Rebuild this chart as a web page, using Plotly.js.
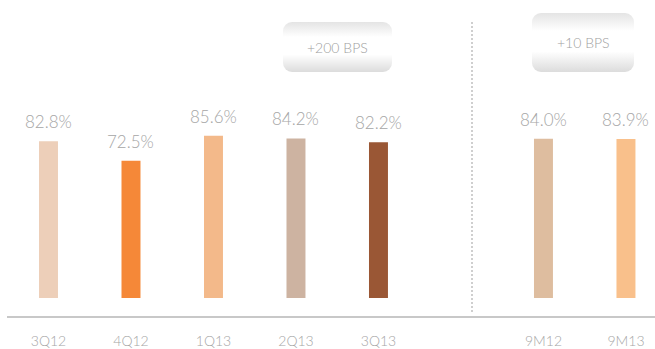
<!DOCTYPE html>
<html>
<head>
<meta charset="utf-8">
<script src="https://cdn.plot.ly/plotly-3.0.1.min.js"></script>
<style>html,body{margin:0;padding:0;background:#fff;}#chart{width:655px;height:349px;}</style>
</head>
<body>
<div id="chart"></div>
<script>
const categories = ["3Q12", "4Q12", "1Q13", "2Q13", "3Q13", "", "9M12", "9M13"];
const values = [82.8, 72.5, 85.6, 84.2, 82.2, null, 84.0, 83.9];
const valueLabels = ["82.8%", "72.5%", "85.6%", "84.2%", "82.2%", "", "84.0%", "83.9%"];
const barColors = ["#EDCFB9", "#F58838", "#F3B98A", "#CDB3A1", "#9A5735", "#ffffff", "#DEBD9F", "#F9C08B"];
const boxLabels = ["+200 BPS", "+10 BPS"];

const xIdx = categories.map((c, i) => i);

function boxSvg(w, h) {
  const s = `<svg xmlns="http://www.w3.org/2000/svg" width="${w}" height="${h}" viewBox="0 0 ${w} ${h}">` +
    `<defs><linearGradient id="g" x1="0" y1="0" x2="0" y2="1">` +
    `<stop offset="0" stop-color="#e4e4e4"/><stop offset="0.3" stop-color="#ffffff"/>` +
    `<stop offset="0.65" stop-color="#ffffff"/><stop offset="1" stop-color="#dcdcdc"/></linearGradient></defs>` +
    `<rect x="1" y="1" width="${w-2}" height="${h-2}" rx="9" ry="9" fill="url(#g)"/></svg>`;
  return "data:image/svg+xml;base64," + btoa(s);
}

const W = 655, H = 349, L = 7, T = 0, B = 33, R = 0;
const pw = W - L - R, ph = H - T - B;
function px(x) { return (x - L) / pw; }
function py(y) { return 1 - (y - T) / ph; }

const FONT = "Lato, 'Open Sans', sans-serif";
const annotations = [];
values.forEach((v, i) => {
  if (v === null) return;
  annotations.push({
    x: xIdx[i], y: v, xref: "x", yref: "y", text: valueLabels[i],
    showarrow: false, yanchor: "bottom", yshift: 7,
    font: {family: FONT, size: 17, color: "#a6a6a6", weight: 300}
  });
});
const boxes = [
  {x0: 282, x1: 393, y0: 21, y1: 73},
  {x0: 531, x1: 635, y0: 12, y1: 73}
];
boxes.forEach((b, i) => {
  annotations.push({
    x: px((b.x0 + b.x1) / 2), y: py((b.y0 + b.y1) / 2), xref: "paper", yref: "paper",
    text: boxLabels[i], showarrow: false, xanchor: "center", yanchor: "middle",
    font: {family: FONT, size: 14, color: "#a0a0a0", weight: 300}
  });
});

const images = boxes.map(b => ({
  source: boxSvg(b.x1 - b.x0, b.y1 - b.y0),
  xref: "paper", yref: "paper",
  x: px(b.x0), y: py(b.y0),
  sizex: (b.x1 - b.x0) / pw, sizey: (b.y1 - b.y0) / ph,
  xanchor: "left", yanchor: "top", sizing: "stretch", layer: "below"
}));

const trace = {
  type: "bar",
  x: xIdx,
  y: values,
  marker: {color: barColors},
  width: 0.23,
  hoverinfo: "skip"
};

const layout = {
  width: W, height: H,
  margin: {l: L, r: R, t: T, b: B, pad: 0},
  paper_bgcolor: "#ffffff", plot_bgcolor: "#ffffff",
  showlegend: false,
  xaxis: {
    range: [-0.503, 7.352],
    tickmode: "array", tickvals: xIdx, ticktext: categories,
    showgrid: false, zeroline: false,
    showline: true, linecolor: "#c8c8c8", linewidth: 2,
    ticks: "", ticklabelstandoff: 11,
    tickfont: {family: FONT, size: 14, color: "#a6a6a6", weight: 300},
    fixedrange: true
  },
  yaxis: {
    range: [-9.5, 157.3],
    visible: false, showgrid: false, zeroline: false, fixedrange: true
  },
  shapes: [
    {type: "line", xref: "paper", yref: "paper",
     x0: px(472), x1: px(472), y0: py(22), y1: py(314),
     line: {color: "#b0b0b0", width: 1.2, dash: "2px,2px"}}
  ],
  annotations: annotations,
  images: images
};

Plotly.newPlot("chart", [trace], layout, {displayModeBar: false, staticPlot: true});
</script>
</body>
</html>
